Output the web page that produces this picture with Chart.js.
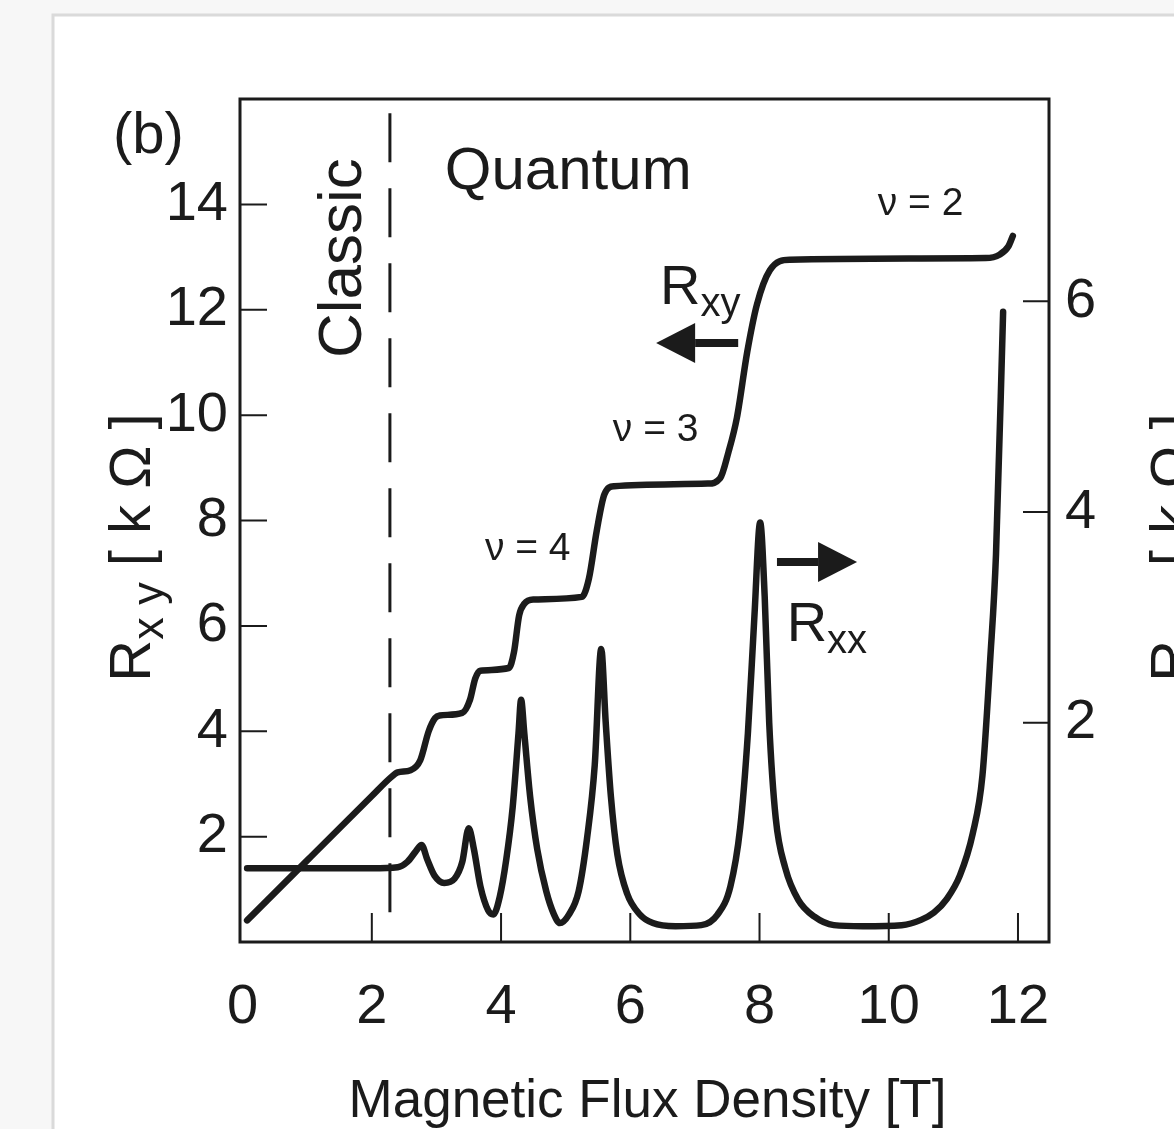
<!DOCTYPE html>
<html>
<head>
<meta charset="utf-8">
<title>Quantum Hall effect</title>
<script src="https://cdn.jsdelivr.net/npm/chart.js@4.4.1/dist/chart.umd.min.js"></script>
<style>
  html, body { margin: 0; padding: 0; background: #fff; }
  canvas { display: block; }
</style>
</head>
<body>
<canvas id="myChart" width="1174" height="1129"></canvas>
<script>
// Hall resistance R_xy [kOhm] against field [T] (left axis)
var rxyField  = [0.07, 1.0, 2.0, 2.29, 2.40, 2.60, 2.75, 2.88, 2.98, 3.05, 3.40, 3.52, 3.60, 3.68, 4.12, 4.20, 4.28, 4.36, 4.50, 5.25, 5.36, 5.48, 5.60, 5.75, 7.20, 7.39, 7.52, 7.65, 7.81, 7.96, 8.16, 8.47, 11.50, 11.72, 11.85, 11.92];
var rxyValues = [0.41, 1.55, 2.77, 3.12, 3.22, 3.26, 3.45, 4.00, 4.25, 4.30, 4.35, 4.60, 5.00, 5.15, 5.20, 5.50, 6.20, 6.42, 6.50, 6.55, 6.90, 7.80, 8.50, 8.65, 8.70, 8.80, 9.30, 9.95, 11.20, 12.10, 12.75, 12.95, 12.98, 13.05, 13.20, 13.40];

// longitudinal resistance R_xx [kOhm] against field [T] (right axis)
var rxxField  = [0.07, 1.0, 2.0, 2.40, 2.55, 2.68, 2.77, 2.86, 2.97, 3.12, 3.28, 3.40, 3.50, 3.58, 3.68, 3.80, 3.88, 3.98, 4.08, 4.18, 4.27, 4.31, 4.36, 4.45, 4.56, 4.70, 4.82, 4.91, 5.05, 5.20, 5.33, 5.45, 5.55, 5.62, 5.70, 5.80, 5.95, 6.15, 6.35, 6.70, 7.10, 7.35, 7.55, 7.70, 7.82, 7.92, 8.01, 8.08, 8.15, 8.25, 8.40, 8.60, 8.85, 9.15, 9.60, 10.20, 10.50, 10.70, 10.90, 11.10, 11.30, 11.45, 11.57, 11.66, 11.77];
var rxxValues = [0.62, 0.62, 0.62, 0.63, 0.68, 0.78, 0.84, 0.70, 0.55, 0.48, 0.52, 0.68, 1.00, 0.80, 0.45, 0.22, 0.18, 0.35, 0.70, 1.20, 1.90, 2.22, 1.90, 1.30, 0.80, 0.40, 0.18, 0.10, 0.18, 0.40, 0.90, 1.60, 2.70, 2.00, 1.30, 0.75, 0.38, 0.18, 0.10, 0.07, 0.08, 0.18, 0.45, 1.00, 1.90, 3.00, 3.90, 3.20, 2.00, 1.10, 0.62, 0.32, 0.16, 0.08, 0.07, 0.08, 0.13, 0.20, 0.33, 0.55, 0.95, 1.50, 2.60, 3.60, 5.90];

// classic / quantum boundary (dashed)
var boundaryField = [2.28, 2.28];
var boundaryLevel = [15.73, 0.28];

var fieldTicks = [2, 4, 6, 8, 10, 12];
var fieldLabels = [0, 2, 4, 6, 8, 10, 12];
var rxyTicks = [2, 4, 6, 8, 10, 12, 14];
var rxxTicks = [2, 4, 6];

var ink = '#1b1b1b';
var family = '"Liberation Sans", Arial, Helvetica, sans-serif';

function font(size) {
  return size + 'px ' + family;
}

function toPoints(xs, ys) {
  return xs.map(function(x, i) { return { x: x, y: ys[i] }; });
}

function setTicks(values) {
  return function(scale) {
    scale.ticks = values.map(function(v) { return { value: v }; });
  };
}

// text made of pieces, some of them lowered as subscripts
function drawRich(c, parts, x, y, align) {
  var total = 0;
  parts.forEach(function(p) { c.font = font(p.size); total += c.measureText(p.t).width; });
  var cx = align === 'center' ? x - total / 2 : x;
  parts.forEach(function(p) {
    c.font = font(p.size);
    c.fillText(p.t, cx, y + (p.dy || 0));
    cx += c.measureText(p.t).width;
  });
}

function arrow(c, x0, x1, y) {
  var dir = x1 > x0 ? 1 : -1;
  var head = 39, half = 20;
  c.lineWidth = 8;
  c.beginPath();
  c.moveTo(x0, y);
  c.lineTo(x1 - dir * head, y);
  c.stroke();
  c.beginPath();
  c.moveTo(x1, y);
  c.lineTo(x1 - dir * head, y - half);
  c.lineTo(x1 - dir * head, y + half);
  c.closePath();
  c.fill();
}

var decorations = {
  id: 'decorations',
  beforeDraw: function(chart) {
    var c = chart.ctx;
    c.save();
    c.fillStyle = '#f7f7f7';
    c.fillRect(0, 0, chart.width, chart.height);
    c.fillStyle = '#ffffff';
    c.fillRect(54, 16, chart.width, chart.height);
    c.strokeStyle = '#dadada';
    c.lineWidth = 3;
    c.beginPath();
    c.moveTo(53, chart.height);
    c.lineTo(53, 15);
    c.lineTo(chart.width, 15);
    c.stroke();
    c.restore();
  },
  afterDraw: function(chart) {
    var c = chart.ctx;
    var a = chart.chartArea;
    var sx = chart.scales.x, sy = chart.scales.y, sr = chart.scales.y1;
    c.save();
    c.strokeStyle = ink;
    c.fillStyle = ink;

    // frame
    c.lineWidth = 3;
    c.strokeRect(a.left, a.top, a.right - a.left, a.bottom - a.top);

    // inward tick marks
    c.lineWidth = 2;
    c.beginPath();
    rxyTicks.forEach(function(v) {
      var p = sy.getPixelForValue(v);
      c.moveTo(a.left, p); c.lineTo(a.left + 27, p);
    });
    rxxTicks.forEach(function(v) {
      var p = sr.getPixelForValue(v);
      c.moveTo(a.right, p); c.lineTo(a.right - 26, p);
    });
    fieldTicks.forEach(function(v) {
      var p = sx.getPixelForValue(v);
      c.moveTo(p, a.bottom); c.lineTo(p, a.bottom - 29);
    });
    c.stroke();

    c.textAlign = 'left';
    c.textBaseline = 'alphabetic';

    // panel letter
    c.font = font(58);
    c.fillText('(b)', a.left - 127, a.top + 54);

    // region names
    c.font = font(60);
    c.fillText('Quantum', sx.getPixelForValue(3.13), sy.getPixelForValue(14.3));
    c.font = font(62);
    c.save();
    c.translate(sx.getPixelForValue(1.84), sy.getPixelForValue(12.98));
    c.rotate(-Math.PI / 2);
    c.textAlign = 'center';
    c.fillText('Classic', 0, 0);
    c.restore();

    // filling factors
    c.font = font(39);
    c.fillText('\u03bd = 2', sx.getPixelForValue(9.83), sy.getPixelForValue(13.8));
    c.fillText('\u03bd = 3', sx.getPixelForValue(5.73), sy.getPixelForValue(9.51));
    c.fillText('\u03bd = 4', sx.getPixelForValue(3.75), sy.getPixelForValue(7.25));

    // curve labels and arrows to their axes
    drawRich(c, [{ t: 'R', size: 56 }, { t: 'xy', size: 40, dy: 12 }],
      sx.getPixelForValue(6.46), sy.getPixelForValue(12.1), 'left');
    arrow(c, sx.getPixelForValue(7.67), sx.getPixelForValue(6.40), sy.getPixelForValue(11.37));
    drawRich(c, [{ t: 'R', size: 56 }, { t: 'xx', size: 40, dy: 12 }],
      sx.getPixelForValue(8.42), sy.getPixelForValue(5.72), 'left');
    arrow(c, sx.getPixelForValue(8.27), sx.getPixelForValue(9.51), sy.getPixelForValue(7.21));

    // axis titles
    c.font = font(53);
    c.textAlign = 'center';
    c.fillText('Magnetic Flux Density [T]', (a.left + a.right) / 2 + 3, a.bottom + 175);
    c.textAlign = 'left';

    var title = [{ t: 'R', size: 58 }, { t: 'x y', size: 45, dy: 13 }, { t: ' [ k \u03a9 ]', size: 58 }];
    var mid = (a.top + a.bottom) / 2 + 27;
    c.save();
    c.translate(a.left - 90, mid);
    c.rotate(-Math.PI / 2);
    drawRich(c, title, 0, 0, 'center');
    c.restore();

    title[1].t = 'x x';
    c.save();
    c.translate(a.right + 142, mid);
    c.rotate(-Math.PI / 2);
    drawRich(c, title, 0, 0, 'center');
    c.restore();

    c.restore();
  }
};

var tickFont = { family: family, size: 56 };

var ctx = document.getElementById('myChart').getContext('2d');
var chart = new Chart(ctx, {
  type: 'line',
  data: {
    datasets: [
      {
        label: 'Rxy',
        data: toPoints(rxyField, rxyValues),
        yAxisID: 'y',
        borderColor: ink,
        borderWidth: 6.5,
        pointRadius: 0,
        cubicInterpolationMode: 'monotone',
        borderJoinStyle: 'round',
        borderCapStyle: 'round'
      },
      {
        label: 'Rxx',
        data: toPoints(rxxField, rxxValues),
        yAxisID: 'y1',
        borderColor: ink,
        borderWidth: 6.5,
        pointRadius: 0,
        cubicInterpolationMode: 'monotone',
        borderJoinStyle: 'round',
        borderCapStyle: 'round'
      },
      {
        label: 'boundary',
        data: toPoints(boundaryField, boundaryLevel),
        yAxisID: 'y',
        borderColor: ink,
        borderWidth: 3,
        borderDash: [49, 26],
        pointRadius: 0
      }
    ]
  },
  options: {
    responsive: false,
    animation: false,
    layout: { padding: { top: 99, left: 0, right: 0, bottom: 0 } },
    plugins: {
      legend: { display: false },
      tooltip: { enabled: false }
    },
    scales: {
      x: {
        type: 'linear',
        min: -0.04,
        max: 12.48,
        afterBuildTicks: setTicks(fieldLabels),
        afterFit: function(s) { s.height = 187; },
        grid: { display: false, drawTicks: false },
        border: { display: false },
        ticks: { font: tickFont, color: ink, padding: 32, maxRotation: 0 }
      },
      y: {
        position: 'left',
        min: 0,
        max: 16,
        afterBuildTicks: setTicks(rxyTicks),
        afterFit: function(s) { s.width = 240; },
        grid: { display: false, drawTicks: false },
        border: { display: false },
        ticks: { font: tickFont, color: ink, padding: 12 }
      },
      y1: {
        position: 'right',
        min: -0.08,
        max: 7.92,
        afterBuildTicks: setTicks(rxxTicks),
        afterFit: function(s) { s.width = 125; },
        grid: { display: false, drawTicks: false },
        border: { display: false },
        ticks: { font: tickFont, color: ink, padding: 16 }
      }
    }
  },
  plugins: [decorations]
});
</script>
</body>
</html>
